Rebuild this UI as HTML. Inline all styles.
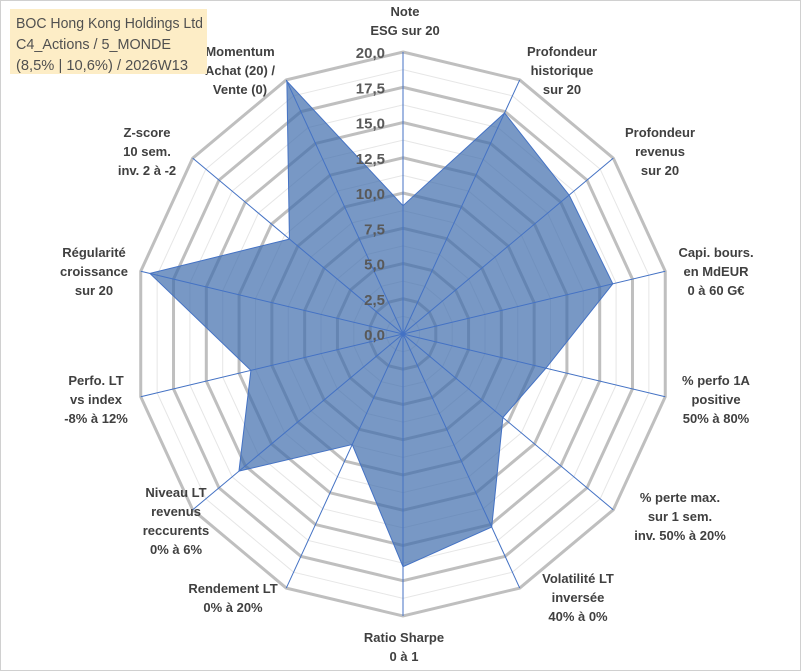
<!DOCTYPE html>
<html><head><meta charset="utf-8"><style>
html,body{margin:0;padding:0;background:#fff}
svg{display:block;font-family:"Liberation Sans",sans-serif}
</style></head><body>
<svg id="chart" width="801" height="671" viewBox="0 0 801 671" xmlns="http://www.w3.org/2000/svg">
<rect x="0.5" y="0.5" width="800" height="670" fill="#fff" stroke="#d0d0d0"/>
<g id="grid"></g>
<g id="series"></g>
<g id="spokes"></g>
<g id="ticks"></g>
<g id="labels" font-weight="bold" font-size="13" fill="#404040" text-anchor="middle"></g>
<g>
<rect x="10" y="9" width="197" height="65" fill="#fdedc6"/>
<text x="16" y="28" font-size="15" fill="#505050" textLength="187" lengthAdjust="spacingAndGlyphs">BOC Hong Kong Holdings Ltd</text>
<text x="16" y="49" font-size="15" fill="#505050" textLength="155" lengthAdjust="spacingAndGlyphs">C4_Actions / 5_MONDE</text>
<text x="16" y="70" font-size="15" fill="#505050" textLength="172" lengthAdjust="spacingAndGlyphs">(8,5% | 10,6%) / 2026W13</text>
</g>
</svg>
<script>
const categories = [
 ["Note","ESG sur 20"],
 ["Profondeur","historique","sur 20"],
 ["Profondeur","revenus","sur 20"],
 ["Capi. bours.","en MdEUR","0 à 60 G€"],
 ["% perfo 1A","positive","50% à 80%"],
 ["% perte max.","sur 1 sem.","inv. 50% à 20%"],
 ["Volatilité LT","inversée","40% à 0%"],
 ["Ratio Sharpe","0 à 1"],
 ["Rendement LT","0% à 20%"],
 ["Niveau LT","revenus","reccurents","0% à 6%"],
 ["Perfo. LT","vs index","-8% à 12%"],
 ["Régularité","croissance","sur 20"],
 ["Z-score","10 sem.","inv. 2 à -2"],
 ["Momentum","Achat (20) /","Vente (0)"]
];
const values = [9.1, 17.4, 15.8, 16.0, 10.9, 9.5, 15.2, 16.5, 8.7, 15.6, 11.6, 19.3, 10.8, 19.9];
const tickValues = [0, 2.5, 5, 7.5, 10, 12.5, 15, 17.5, 20];
const tickLabels = ["0,0","2,5","5,0","7,5","10,0","12,5","15,0","17,5","20,0"];
const labelPos = [[405,16],[562,56],[660,137],[716,257],[716,385],[680,502],[578,583],[404,642],[233,593],[176,497],[96,385],[94,257],[147,137],[240,56]];

const NS="http://www.w3.org/2000/svg";
const cx=403, cy=334, RX=269, RY=282, vmax=20;
const n=categories.length;
function ang(i){return i*2*Math.PI/n;}
function pt(i,v){const f=v/vmax;return [cx+f*RX*Math.sin(ang(i)), cy-f*RY*Math.cos(ang(i))];}
function mk(tag,attrs,parent){const e=document.createElementNS(NS,tag);for(const k in attrs)e.setAttribute(k,attrs[k]);parent.appendChild(e);return e;}

const grid=document.getElementById('grid');
for(let k=1;k<=16;k++){
  const v=k*1.25;
  const pts=[];for(let i=0;i<n;i++)pts.push(pt(i,v).join(','));
  const major=k%2===0;
  const p=mk('polygon',{points:pts.join(' '),fill:'none',stroke:major?'#bfbfbf':'#e6e6e6','stroke-width':major?3:1},grid);
  
  
}

const series=document.getElementById('series');
const sp=values.map((v,i)=>pt(i,v).join(',')).join(' ');
const poly=mk('polygon',{points:sp,fill:'rgb(62,108,172)','fill-opacity':0.7,stroke:'#4472c4','stroke-width':1},series);



const spokes=document.getElementById('spokes');
for(let i=0;i<n;i++){
  const e=pt(i,vmax);
  const l=mk('line',{x1:cx,y1:cy,x2:e[0],y2:e[1],stroke:'#4472c4','stroke-width':1},spokes);
  
  
}

const ticks=document.getElementById('ticks');
tickValues.forEach((v,j)=>{
  const y=cy-v/vmax*RY;
  const t=mk('text',{x:385,y:y+6,'text-anchor':'end','font-size':15,'font-weight':'bold',fill:'#595959'},ticks);
  t.textContent=tickLabels[j];
  
  
});

const labels=document.getElementById('labels');
categories.forEach((lines,i)=>{
  const t=mk('text',{x:labelPos[i][0],y:labelPos[i][1]},labels);
  
  
  lines.forEach((s,k)=>{const ts=mk('tspan',{x:labelPos[i][0],dy:k===0?0:19},t);ts.textContent=s;});
});
</script>
</body></html>
